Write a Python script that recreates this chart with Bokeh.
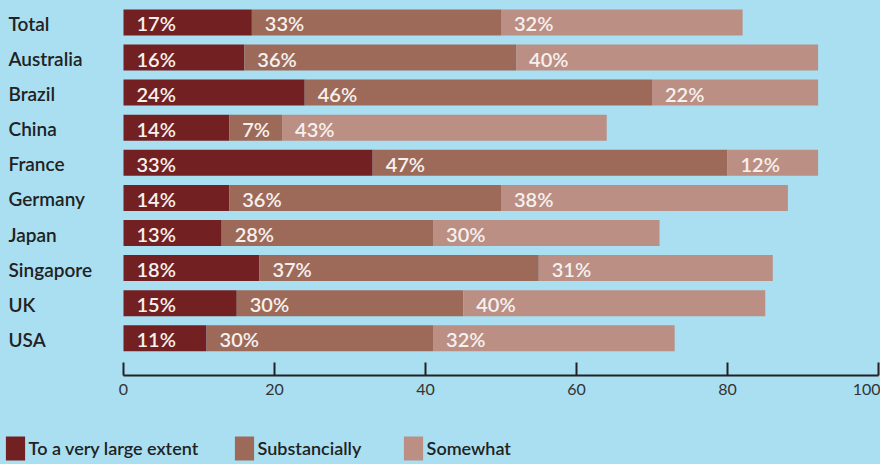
import numpy as np
from bokeh.plotting import figure
from bokeh.layouts import column
from bokeh.models import ColumnDataSource, Range1d, FixedTicker, Legend, LegendItem
from bokeh.core.properties import value
from bokeh.embed import file_html
from bokeh.resources import INLINE

countries = ["Total", "Australia", "Brazil", "China", "France", "Germany",
             "Japan", "Singapore", "UK", "USA"]
very_large = [17, 16, 24, 14, 33, 14, 13, 18, 15, 11]
substantially = [33, 36, 46, 7, 47, 36, 28, 37, 30, 30]
somewhat = [32, 40, 22, 43, 12, 38, 30, 31, 40, 32]
series_names = ["To a very large extent", "Substancially", "Somewhat"]
x_ticks = [0, 20, 40, 60, 80, 100]

colors = ["#732022", "#9d6a5a", "#bb8f84"]
BG = "#a9dff1"
FONT = "Lato"
FONT_MED = "Lato Semibold, Lato"

n = len(countries)
ypos = np.arange(n)[::-1].astype(float)  # Total at top

p = figure(width=880, height=410, output_backend="svg", toolbar_location=None,
           x_range=Range1d(-123 / 7.55, 100 + 2 / 7.55),
           y_range=Range1d(-37.2 / 35.1, 9 + 21.9 / 35.1),
           min_border_left=0, min_border_right=0, min_border_top=0,
           min_border_bottom=35)
p.background_fill_color = BG
p.border_fill_color = BG
p.outline_line_color = None
p.grid.visible = False
p.yaxis.visible = False

series = [very_large, substantially, somewhat]
left = np.zeros(n)
for vals, col in zip(series, colors):
    vals = np.array(vals, dtype=float)
    right = left + vals
    src = ColumnDataSource(dict(y=ypos, left=left, right=right,
                                lab=[f"{int(v)}%" for v in vals]))
    p.hbar(y="y", left="left", right="right", height=26 / 35.1,
           fill_color=col, line_color=None, source=src)
    p.text(x="left", y="y", text="lab", source=src, x_offset=13, y_offset=1,
           text_align="left", text_baseline="middle", text_color="#f6f1ee",
           text_font=value(FONT_MED), text_font_size="20px")
    left = right

csrc = ColumnDataSource(dict(y=ypos, name=countries, x=[-115 / 7.55] * n))
p.text(x="x", y="y", text="name", source=csrc, text_align="left",
       text_baseline="middle", text_color="#222222", text_font=value(FONT_MED),
       text_font_size="19px", y_offset=1)

ax = p.xaxis[0]
ax.bounds = (0, 100)
ax.ticker = FixedTicker(ticks=x_ticks)
ax.minor_tick_line_color = None
ax.major_tick_in = 13
ax.major_tick_out = 0
ax.major_tick_line_width = 2
ax.major_tick_line_color = "#222222"
ax.axis_line_width = 2
ax.axis_line_color = "#222222"
ax.major_label_standoff = 8
ax.major_label_text_font = FONT
ax.major_label_text_font_size = "16px"
ax.major_label_text_color = "#333333"

# legend strip
q = figure(width=880, height=54, output_backend="svg", toolbar_location=None,
           x_range=Range1d(0, 1), y_range=Range1d(0, 1),
           min_border_left=0, min_border_right=0, min_border_top=0,
           min_border_bottom=0)
q.background_fill_color = BG
q.border_fill_color = BG
q.outline_line_color = None
q.grid.visible = False
q.axis.visible = False

legend_x = [2.6, 231.6, 400.6]
for name, col, lx in zip(series_names, colors, legend_x):
    r = q.quad(left=[5], right=[6], bottom=[5], top=[6],
               fill_color=col, line_color=None)
    lg = Legend(items=[LegendItem(label=name, renderers=[r])],
                location=(lx, 1), orientation="horizontal",
                glyph_width=24, glyph_height=30, label_standoff=2,
                padding=0, margin=0, border_line_color=None,
                background_fill_alpha=0, label_text_font=FONT_MED,
                label_text_font_size="18px", label_text_color="#222222",
                label_height=30, label_text_baseline="middle")
    q.add_layout(lg, "center")

layout = column(p, q, spacing=0, styles={"background-color": BG})
open("out.html", "w").write(file_html(layout, INLINE))
